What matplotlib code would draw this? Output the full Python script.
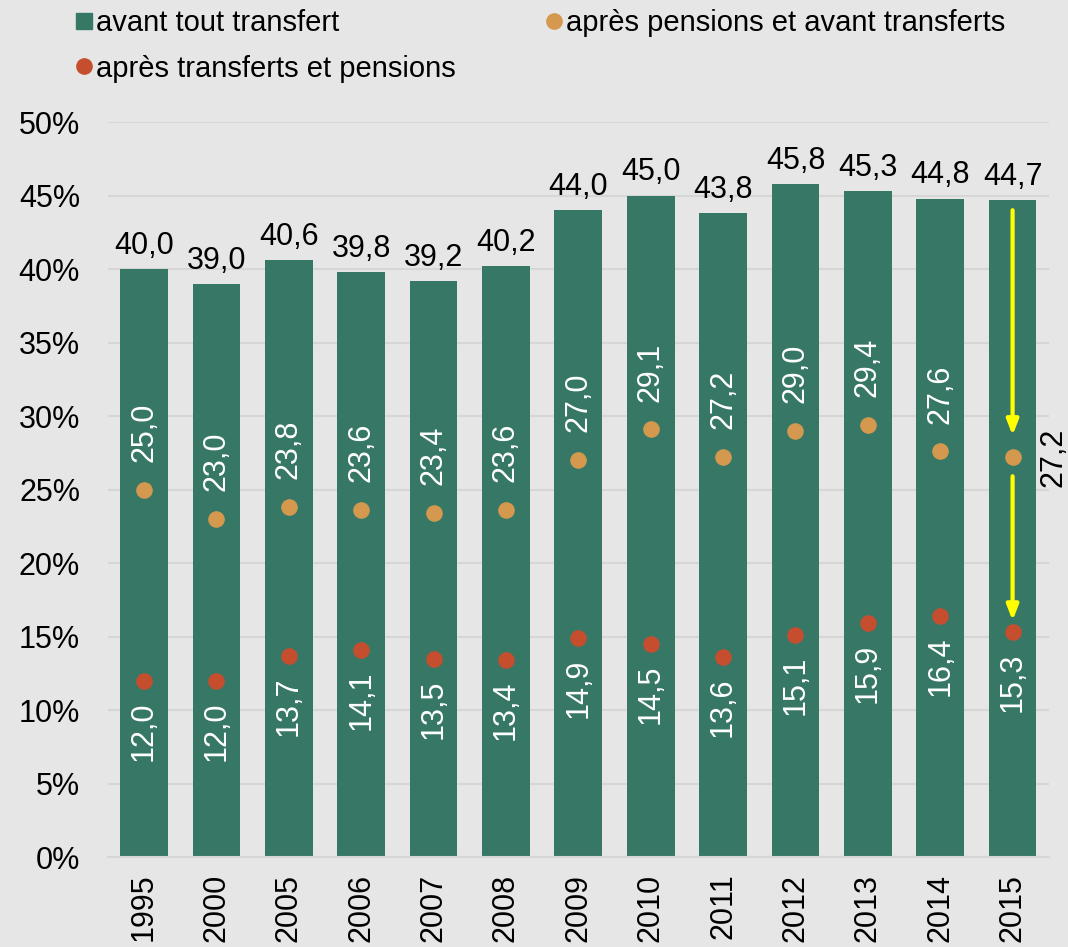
import numpy as np
import matplotlib.pyplot as plt
from matplotlib.lines import Line2D

plt.rcParams['font.family'] = ['Liberation Sans', 'DejaVu Sans']

years = ['1995', '2000', '2005', '2006', '2007', '2008', '2009',
         '2010', '2011', '2012', '2013', '2014', '2015']
avant = [40.0, 39.0, 40.6, 39.8, 39.2, 40.2, 44.0, 45.0, 43.8, 45.8, 45.3, 44.8, 44.7]
apres_pensions = [25.0, 23.0, 23.8, 23.6, 23.4, 23.6, 27.0, 29.1, 27.2, 29.0, 29.4, 27.6, 27.2]
apres_tout = [12.0, 12.0, 13.7, 14.1, 13.5, 13.4, 14.9, 14.5, 13.6, 15.1, 15.9, 16.4, 15.3]

bg = '#E6E6E6'
green = '#377766'
orange = '#D4984E'
red = '#C44E2E'
fs = 22

def fr(v):
    return f'{v:.1f}'.replace('.', ',')

fig = plt.figure(figsize=(10.68, 9.47), dpi=100, facecolor=bg)
ax = fig.add_axes([0.101, 0.095, 0.881, 0.776], facecolor=bg)

x = np.arange(len(years))
ax.bar(x, avant, width=0.66, color=green, zorder=2)
ax.scatter(x, apres_pensions, s=120, color=orange, zorder=3)
ax.scatter(x, apres_tout, s=120, color=red, zorder=3)

for i in x:
    ax.annotate(fr(avant[i]), (i, avant[i]), xytext=(0, 6), textcoords='offset points',
                ha='center', va='bottom', fontsize=fs, color='black')
    if i == len(years) - 1:
        ax.annotate(fr(apres_pensions[i]), (i, apres_pensions[i]), xytext=(19, 0),
                    textcoords='offset points', ha='left', va='center',
                    rotation=90, fontsize=fs, color='black', annotation_clip=False)
    else:
        ax.annotate(fr(apres_pensions[i]), (i, apres_pensions[i]), xytext=(0, 20),
                    textcoords='offset points', ha='center', va='bottom',
                    rotation=90, fontsize=fs, color='white')
    ax.annotate(fr(apres_tout[i]), (i, apres_tout[i]), xytext=(0, -15),
                textcoords='offset points', ha='center', va='top',
                rotation=90, fontsize=fs, color='white')

# yellow arrows on 2015
last = len(years) - 1
ax.annotate('', xy=(last, 28.5), xytext=(last, 44.2),
            arrowprops=dict(arrowstyle='-|>,head_length=0.9,head_width=0.35',
                            color='#FFFF00', lw=3), zorder=4)
ax.annotate('', xy=(last, 15.9), xytext=(last, 26.1),
            arrowprops=dict(arrowstyle='-|>,head_length=0.9,head_width=0.35',
                            color='#FFFF00', lw=3), zorder=4)

ax.set_xlim(-0.5, len(years) - 0.5)
ax.set_ylim(0, 50)
ax.set_yticks(np.arange(0, 51, 5))
ax.set_yticklabels([f'{v}%' for v in range(0, 51, 5)], fontsize=fs)
ax.set_xticks(x)
ax.set_xticklabels(years, rotation=90, fontsize=fs)
ax.tick_params(length=0, pad=12)
ax.tick_params(axis='y', pad=20)
ax.grid(axis='y', color='#D6D6D6', lw=1.5, zorder=0)
for s in ['top', 'right', 'left']:
    ax.spines[s].set_visible(False)
ax.spines['bottom'].set_color('#D6D6D6')
ax.spines['bottom'].set_linewidth(1.5)

handles = [
    Line2D([], [], marker='s', ls='', color=green, markersize=11),
    Line2D([], [], marker='o', ls='', color=red, markersize=11),
    Line2D([], [], marker='o', ls='', color=orange, markersize=11),
]
labels = ['avant tout transfert', 'après transferts et pensions',
          'après pensions et avant transferts']
fig.legend(handles, labels, loc='upper left', bbox_to_anchor=(0.043, 1.018), ncol=2,
           frameon=False, fontsize=21, handletextpad=0.0, columnspacing=3.0,
           labelspacing=0.6, handlelength=0.8)

fig.savefig('out.png', dpi=100, facecolor=bg)
